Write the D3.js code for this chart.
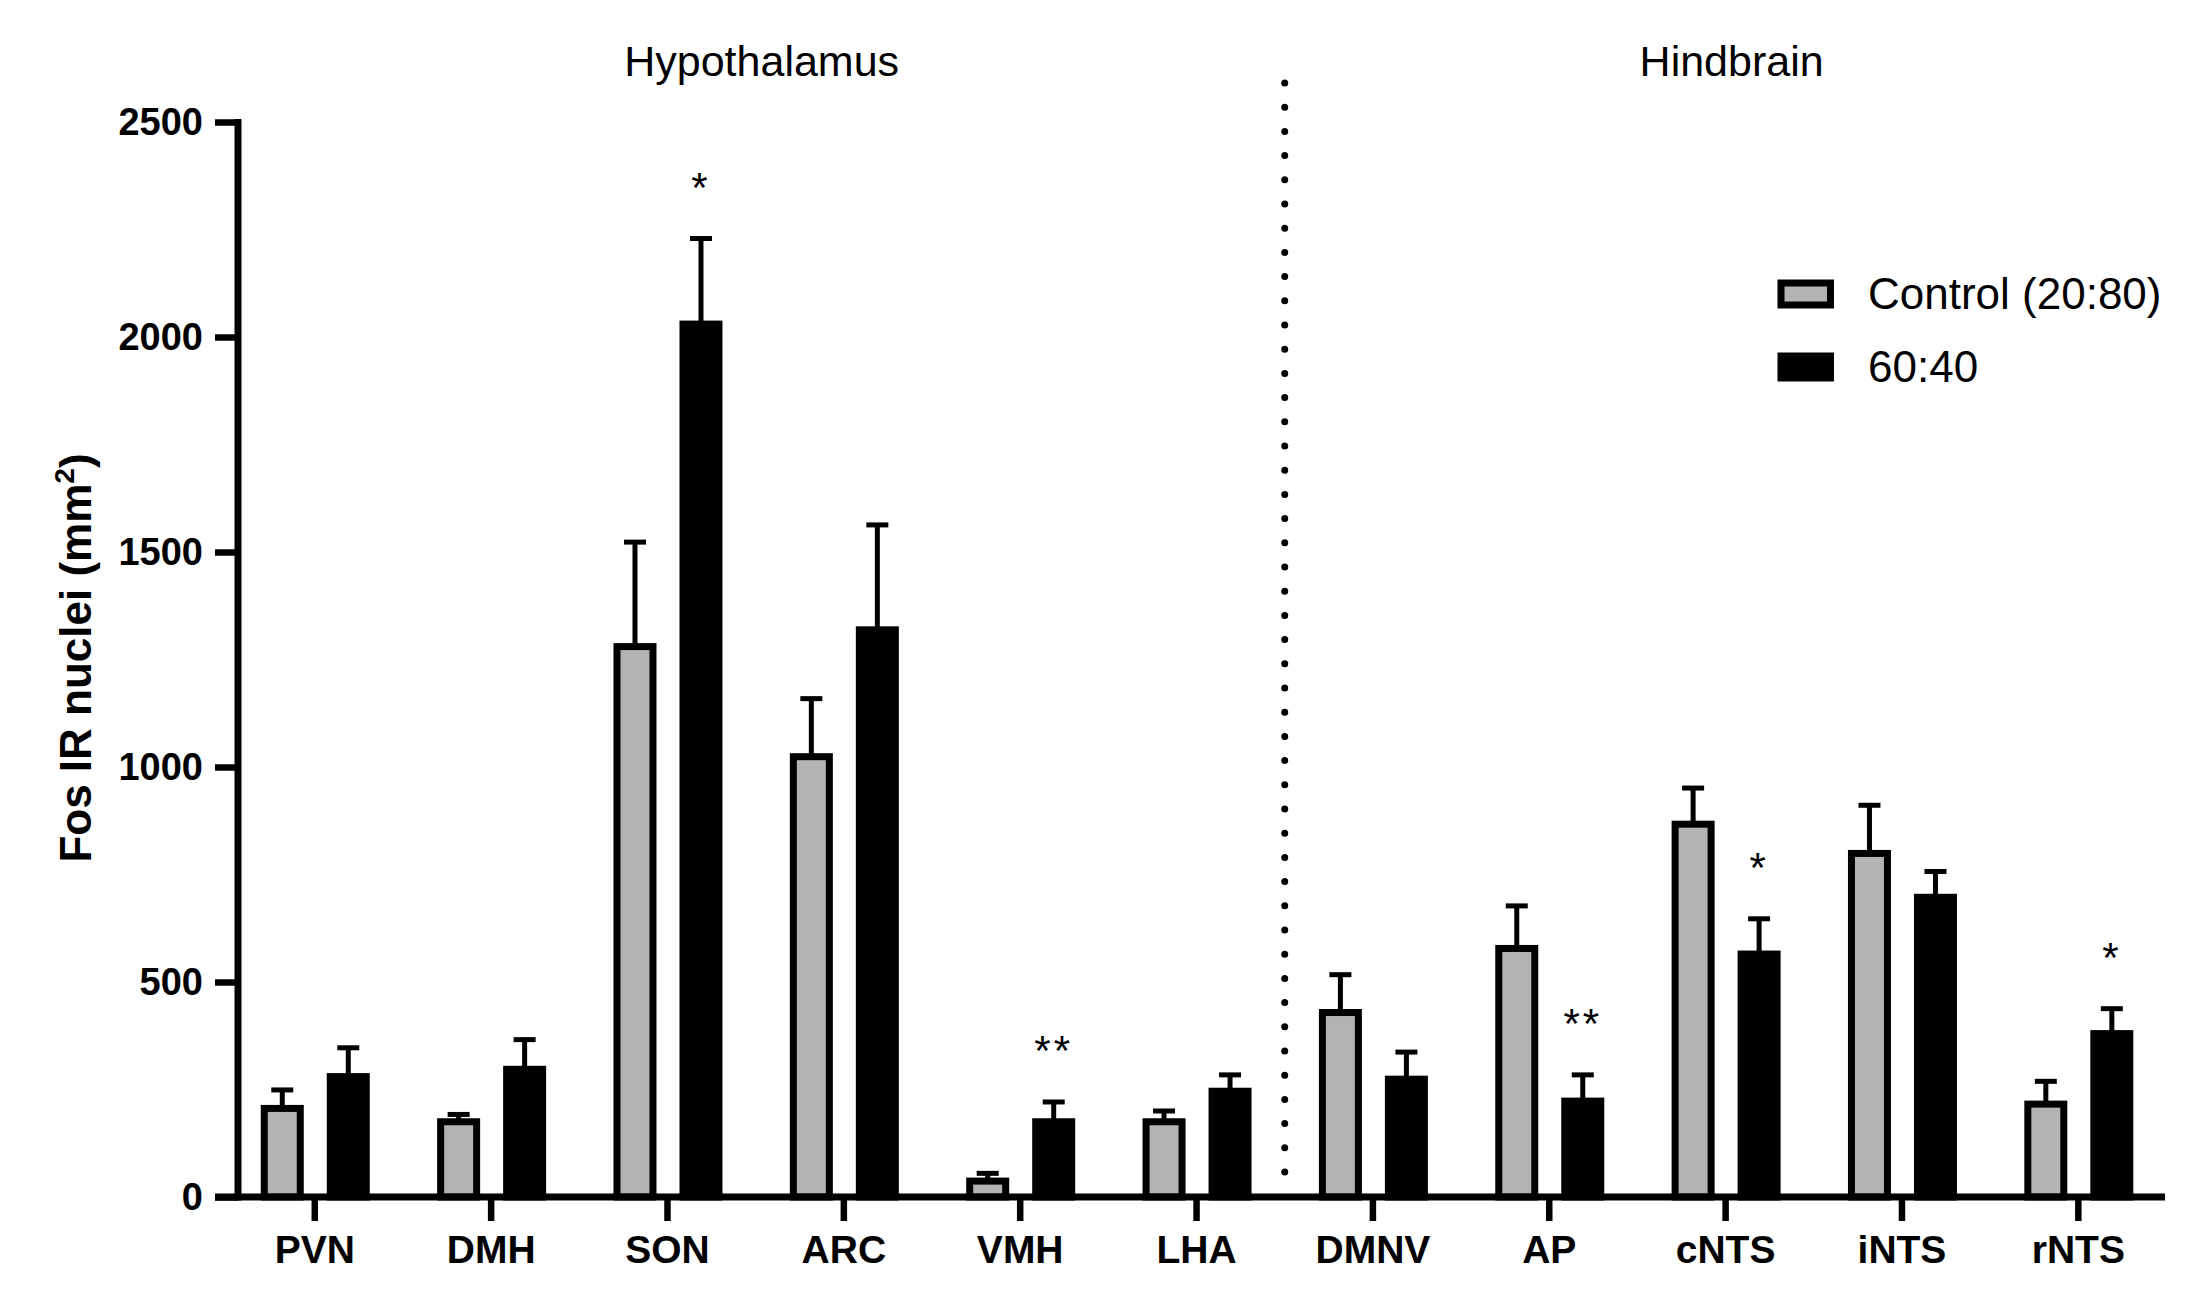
<!DOCTYPE html>
<html>
<head>
<meta charset="utf-8">
<script src="https://cdn.jsdelivr.net/npm/d3@7"></script>
<style>
  html, body { margin: 0; padding: 0; background: #fff; }
  svg { display: block; font-family: "Liberation Sans", Arial, Helvetica, sans-serif; }
</style>
</head>
<body>
<svg id="chart" width="2207" height="1292"></svg>
<script>
// ---- data ----
const categories = ["PVN", "DMH", "SON", "ARC", "VMH", "LHA", "DMNV", "AP", "cNTS", "iNTS", "rNTS"];
const seriesNames = ["Control (20:80)", "60:40"];
const controlMean = [206, 175, 1280, 1024, 37, 175, 429, 578, 867, 799, 216];
const controlSEM  = [43, 17, 243, 135, 18, 25, 88, 99, 84, 112, 53];
const dietMean    = [280, 297, 2030, 1319, 175, 246, 274, 223, 565, 697, 380];
const dietSEM     = [67, 69, 199, 244, 46, 38, 63, 61, 82, 60, 58];
const dietSig     = ["", "", "*", "", "**", "", "", "**", "*", "", "*"];
const yTicks = [0, 500, 1000, 1500, 2000, 2500];
const regionNames = ["Hypothalamus", "Hindbrain"];
const regionFirst = ["PVN", "DMNV"];
const regionLast  = ["LHA", "rNTS"];
const yTitle = "Fos IR nuclei (mm";
const yTitleSup = "2";

// ---- layout ----
const svg = d3.select("#chart");
const yAxisX = 238;
const y = d3.scaleLinear().domain([0, 2500]).range([1197, 122]);
const x = d3.scaleBand().domain(categories).range([226.6, 2166.5]).paddingInner(0).paddingOuter(0);
const bw = x.bandwidth();
const xs = d3.scaleBand().domain(seriesNames).range([-54, 55]).paddingInner(0.3485).paddingOuter(0);
const fills = ["#b3b3b2", "#000000"];
const SW = 7;

const data = categories.map((c, i) => ({
  cat: c,
  vals: [
    { s: seriesNames[0], m: controlMean[i], e: controlSEM[i], sig: "" },
    { s: seriesNames[1], m: dietMean[i], e: dietSEM[i], sig: dietSig[i] }
  ]
}));

// bars
const groups = svg.append("g").selectAll("g").data(data).join("g")
  .attr("transform", d => `translate(${x(d.cat) + bw / 2},0)`);

// error bars (drawn first, so bars cover lower part)
groups.selectAll("line.err").data(d => d.vals).join("line")
  .attr("class", "err")
  .attr("x1", d => xs(d.s) + xs.bandwidth() / 2)
  .attr("x2", d => xs(d.s) + xs.bandwidth() / 2)
  .attr("y1", d => y(d.m))
  .attr("y2", d => y(d.m + d.e))
  .attr("stroke", "#000").attr("stroke-width", 5);
groups.selectAll("line.cap").data(d => d.vals).join("line")
  .attr("class", "cap")
  .attr("x1", d => xs(d.s) + xs.bandwidth() / 2 - 11)
  .attr("x2", d => xs(d.s) + xs.bandwidth() / 2 + 11)
  .attr("y1", d => y(d.m + d.e))
  .attr("y2", d => y(d.m + d.e))
  .attr("stroke", "#000").attr("stroke-width", 5);

groups.selectAll("rect").data(d => d.vals).join("rect")
  .attr("x", d => xs(d.s) + SW / 2)
  .attr("width", xs.bandwidth() - SW)
  .attr("y", d => y(d.m))
  .attr("height", d => y(0) - y(d.m))
  .attr("fill", (d, i) => fills[i])
  .attr("stroke", "#000").attr("stroke-width", SW);

// significance stars
groups.selectAll("text.sig").data(d => d.vals.filter(v => v.sig)).join("text")
  .attr("class", "sig")
  .attr("x", d => xs(d.s) + xs.bandwidth() / 2)
  .attr("y", d => y(d.m + d.e) - 37)
  .attr("text-anchor", "middle")
  .attr("font-size", 42)
  .attr("letter-spacing", 3)
  .text(d => d.sig);

// ---- axes ----
const yAxis = d3.axisLeft(y).tickValues(yTicks).tickFormat(d3.format("d"))
  .tickSize(23).tickPadding(12).tickSizeOuter(0);
const gy = svg.append("g").attr("transform", `translate(${yAxisX},0)`).call(yAxis);
gy.select(".domain").remove();
gy.selectAll(".tick line").attr("stroke", "#000").attr("stroke-width", 6.5);
gy.selectAll(".tick text").attr("font-size", 38).attr("font-weight", "bold").attr("fill", "#000")
  .attr("font-family", "Liberation Sans, Arial, sans-serif");

const xAxis = d3.axisBottom(x).tickSize(24).tickPadding(14).tickSizeOuter(0);
const gx = svg.append("g").attr("transform", `translate(0,${y(0)})`).call(xAxis);
gx.select(".domain").remove();
gx.selectAll(".tick line").attr("stroke", "#000").attr("stroke-width", 6.5);
gx.selectAll(".tick text").attr("font-size", 39).attr("font-weight", "bold").attr("fill", "#000")
  .attr("font-family", "Liberation Sans, Arial, sans-serif");

// axis lines
svg.append("line").attr("x1", yAxisX).attr("x2", yAxisX)
  .attr("y1", y(2500) - 3).attr("y2", y(0) + 3.5)
  .attr("stroke", "#000").attr("stroke-width", 7);
svg.append("line").attr("x1", 215).attr("x2", 2165)
  .attr("y1", y(0)).attr("y2", y(0))
  .attr("stroke", "#000").attr("stroke-width", 7);

// y title
svg.append("text")
  .attr("transform", `translate(91,${658}) rotate(-90)`)
  .attr("text-anchor", "middle")
  .attr("font-size", 44).attr("font-weight", "bold")
  .call(t => {
    t.append("tspan").text(yTitle);
    t.append("tspan").attr("font-size", 28).attr("dy", -17).text(yTitleSup);
    t.append("tspan").attr("dy", 17).text(")");
  });

// dotted divider between regions
const divX = (x(regionLast[0]) + bw + x(regionFirst[1])) / 2;
svg.append("line")
  .attr("x1", divX).attr("x2", divX)
  .attr("y1", 1172).attr("y2", 80)
  .attr("stroke", "#000").attr("stroke-width", 7)
  .attr("stroke-linecap", "round")
  .attr("stroke-dasharray", "0 24.2");

// region titles
regionNames.forEach((name, i) => {
  const cx = (x(regionFirst[i]) + x(regionLast[i]) + bw) / 2 + 6;
  svg.append("text").attr("x", cx).attr("y", 76)
    .attr("text-anchor", "middle").attr("font-size", 43)
    .text(name);
});

// legend
const legend = svg.append("g");
seriesNames.forEach((s, i) => {
  const cy = 294 + i * 73;
  legend.append("rect")
    .attr("x", 1781).attr("y", cy - 11)
    .attr("width", 49.5).attr("height", 22)
    .attr("fill", fills[i]).attr("stroke", "#000").attr("stroke-width", SW);
  legend.append("text")
    .attr("x", 1868).attr("y", cy).attr("dy", "0.35em")
    .attr("font-size", 44)
    .text(s);
});
</script>
</body>
</html>
